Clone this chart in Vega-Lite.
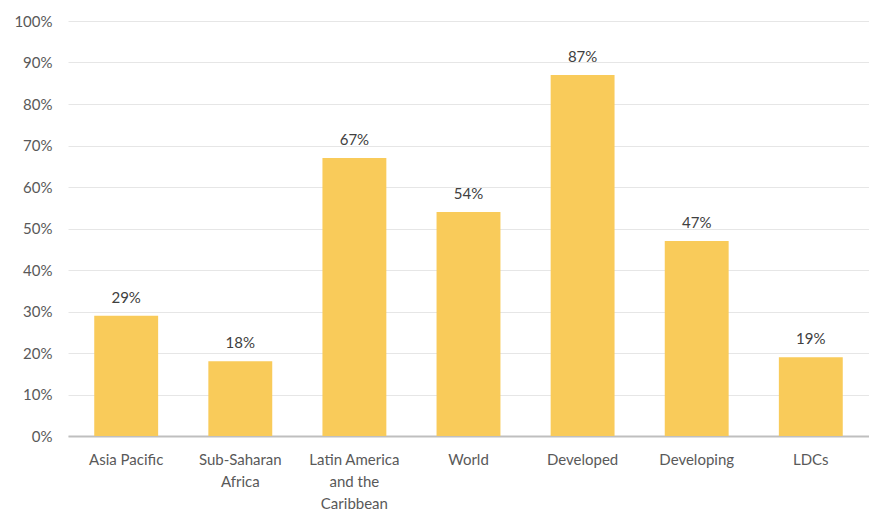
{
  "$schema": "https://vega.github.io/schema/vega-lite/v6.json",
  "width": 801,
  "height": 415,
  "autosize": {"type": "none"},
  "padding": {"left": 68, "top": 21, "right": 0, "bottom": 74},
  "background": "white",
  "config": {"view": {"stroke": null}, "font": "Lato"},
  "data": {
    "values": [
      {"region": "Asia Pacific", "value": 0.29},
      {"region": "Sub-Saharan Africa", "value": 0.18},
      {"region": "Latin America and the Caribbean", "value": 0.67},
      {"region": "World", "value": 0.54},
      {"region": "Developed", "value": 0.87},
      {"region": "Developing", "value": 0.47},
      {"region": "LDCs", "value": 0.19}
    ]
  },
  "encoding": {
    "x": {
      "field": "region",
      "type": "nominal",
      "sort": null,
      "scale": {"paddingInner": 0.44, "paddingOuter": 0.23},
      "axis": {
        "title": null,
        "labelAngle": 0,
        "labelFontSize": 15,
        "labelColor": "#595959",
        "labelPadding": 16,
        "labelLineHeight": 22,
        "labelBaseline": "top",
        "labelOverlap": false,
        "ticks": false,
        "domainColor": "#BFBFBF",
        "domainWidth": 2,
        "labelExpr": "datum.value == 'Sub-Saharan Africa' ? ['Sub-Saharan','Africa'] : datum.value == 'Latin America and the Caribbean' ? ['Latin America','and the','Caribbean'] : datum.value"
      }
    },
    "y": {
      "field": "value",
      "type": "quantitative",
      "scale": {"domain": [0, 1]},
      "axis": {
        "title": null,
        "format": ".0%",
        "values": [0,0.1,0.2,0.3,0.4,0.5,0.6,0.7,0.8,0.9,1],
        "labelFontSize": 15,
        "labelColor": "#595959",
        "labelPadding": 16,
        "labelOverlap": false,
        "ticks": false,
        "domain": false,
        "gridColor": "#E6E6E6",
        "gridWidth": 1
      }
    }
  },
  "layer": [
    {"mark": {"type": "bar", "color": "#F9CB5A"}},
    {
      "mark": {"type": "text", "dy": -10, "baseline": "bottom", "fontSize": 15, "color": "#404040"},
      "encoding": {"text": {"field": "value", "type": "quantitative", "format": ".0%"}}
    }
  ]
}
